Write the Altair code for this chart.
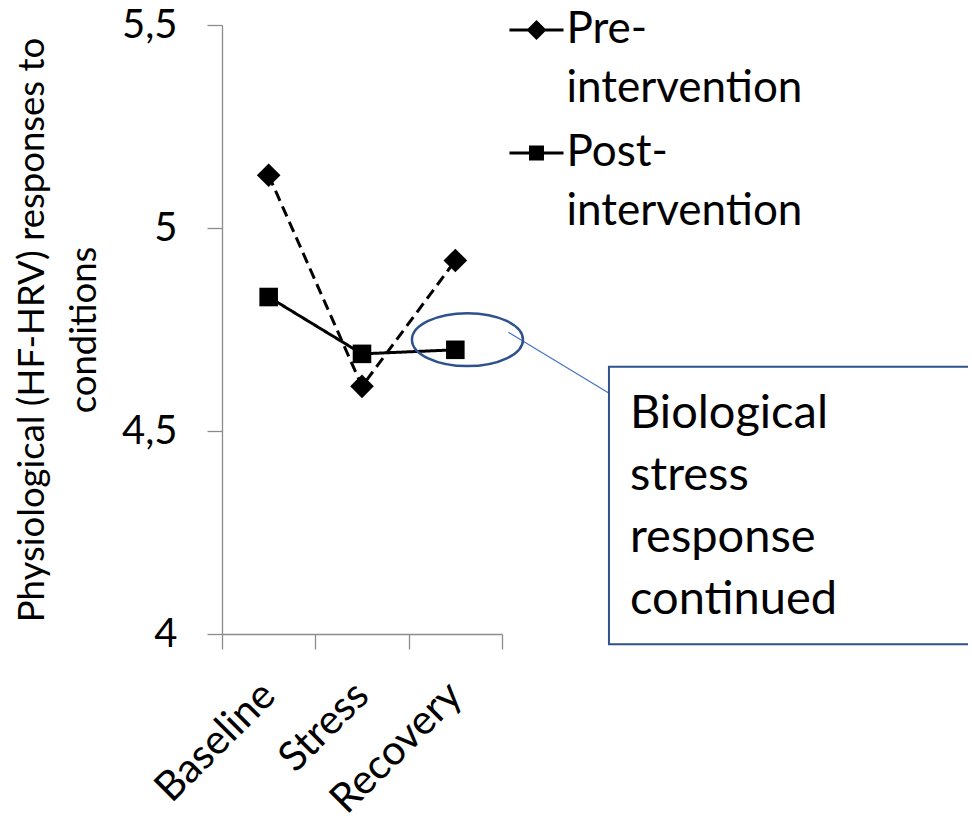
import json
import altair as alt
import pandas as pd

# ---- chart values ----
categories = ["Baseline", "Stress", "Recovery"]
series_names = ["Pre-intervention", "Post-intervention"]
pre_values = [5.13, 4.61, 4.92]
post_values = [4.83, 4.69, 4.70]
y_ticks = [4.0, 4.5, 5.0, 5.5]
y_title = ["Physiological (HF-HRV) responses to", "conditions"]
legend_lines = [["Pre-", "intervention"], ["Post-", "intervention"]]
note_lines = ["Biological", "stress", "response", "continued"]

# ---- annotation anchors (data units) ----
ellipse_center = [2.63, 4.725]
connector_from = [3.068, 4.743]
connector_to = [4.139, 4.594]
box_from = [4.146, 4.658]
box_to = [8.2, 3.975]
note_anchor = [4.371, 4.507]

rows = []
for name, vals in zip(series_names, [pre_values, post_values]):
    for i, (c, v) in enumerate(zip(categories, vals)):
        rows.append({"category": c, "pos": i + 0.5, "series": name, "value": v})
df = pd.DataFrame(rows)

FONT = "Lato"
GREY = "#8c8c8c"
BLUE_DARK = "#2F528F"
BLUE = "#4472C4"

x_scale = alt.Scale(domain=[0, len(categories)], nice=False, zero=False)
y_scale = alt.Scale(domain=[4, 5.5], nice=False, zero=False)

x_ticks = [i * 0.5 for i in range(2 * len(categories) + 1)]
x_label_expr = (
    f"datum.value % 1 == 0.5 ? {json.dumps(categories)}[floor(datum.value)] : ''"
)

x_axis = alt.Axis(
    values=x_ticks, labelExpr=x_label_expr, title=None, grid=False,
    domainColor=GREY, domainWidth=1.3, tickColor=GREY, tickWidth=1.3, tickSize=15,
    tickOpacity={"condition": {"test": "datum.value % 1 != 0", "value": 0}, "value": 1},
    labelAngle=-45, labelAlign="right", labelBaseline="middle", labelPadding=40,
    labelFont=FONT, labelFontSize=41, labelColor="black",
    labelOverlap=False, labelFlush=False,
)
y_axis = alt.Axis(
    values=y_ticks, format=".1~f", labelExpr="replace(datum.label, '.', ',')",
    title=y_title, grid=False,
    domainColor=GREY, domainWidth=1.3, tickColor=GREY, tickWidth=1.3, tickSize=15,
    labelPadding=30, labelFont=FONT, labelFontSize=40, labelColor="black",
    titleFont=FONT, titleFontSize=36.5, titleFontWeight="normal", titleColor="black",
    titleLineHeight=52, titleAngle=-90, titleAlign="center", titleBaseline="top",
    titleX=-208, titleY=304.5,
)

x_enc = alt.X("pos:Q", scale=x_scale, axis=x_axis)
y_enc = alt.Y("value:Q", scale=y_scale, axis=y_axis)

lines = alt.Chart(df).mark_line(color="black", strokeWidth=3).encode(
    x=x_enc, y=y_enc, detail="series:N",
    strokeDash=alt.StrokeDash("series:N", scale=alt.Scale(domain=series_names, range=[[11, 6], [1, 0]]), legend=None),
)

points = alt.Chart(df).mark_point(filled=True, color="black", opacity=1).encode(
    x=x_enc, y=y_enc,
    shape=alt.Shape("series:N", scale=alt.Scale(domain=series_names, range=["diamond", "square"]), legend=None),
    size=alt.Size("series:N", scale=alt.Scale(type="ordinal", domain=series_names, range=[560, 345]), legend=None),
)

# legend symbols: a line segment (thin filled bar) with the marker
pre_sym = "M-3.18,-0.18H3.18V0.18H-3.18ZM-1.18,0L0,-1.18L1.18,0L0,1.18Z"
post_sym = "M-3.18,-0.18H3.18V0.18H-3.18ZM-0.88,-0.88H0.88V0.88H-0.88Z"
legend_expr = (
    f"datum.label == {json.dumps(series_names[0])} ? {json.dumps(legend_lines[0])} : {json.dumps(legend_lines[1])}"
)

legend_layer = alt.Chart(df).mark_point(filled=True, color="black", opacity=0).encode(
    x=x_enc, y=y_enc,
    shape=alt.Shape(
        "series:N",
        scale=alt.Scale(domain=series_names, range=[pre_sym, post_sym]),
        legend=alt.Legend(
            title=None, orient="none", legendX=292.5, legendY=-17, padding=0,
            labelExpr=legend_expr, labelFont=FONT, labelFontSize=44,
            labelLimit=600, labelBaseline="middle", labelColor="black", labelOffset=8,
            symbolSize=289, symbolOpacity=1, symbolFillColor="black",
            symbolStrokeColor="black", symbolStrokeWidth=0, symbolOffset=0,
            rowPadding=20,
        ),
    ),
)

box_df = pd.DataFrame([{"x": box_from[0], "x2": box_to[0], "y": box_from[1], "y2": box_to[1]}])
box = alt.Chart(box_df).mark_rect(fill="white", stroke=BLUE_DARK, strokeWidth=2).encode(
    x=alt.X("x:Q", scale=x_scale, axis=x_axis), x2="x2:Q",
    y=alt.Y("y:Q", scale=y_scale, axis=y_axis), y2="y2:Q",
)

conn_df = pd.DataFrame([{"x": connector_from[0], "x2": connector_to[0], "y": connector_from[1], "y2": connector_to[1]}])
connector = alt.Chart(conn_df).mark_rule(color=BLUE, strokeWidth=1.2).encode(
    x=alt.X("x:Q", scale=x_scale, axis=x_axis), x2="x2:Q",
    y=alt.Y("y:Q", scale=y_scale, axis=y_axis), y2="y2:Q",
)

ell_df = pd.DataFrame([{"x": ellipse_center[0], "y": ellipse_center[1]}])
ellipse = alt.Chart(ell_df).mark_point(
    shape="M-1,0A1,0.477,0,1,1,1,0A1,0.477,0,1,1,-1,0Z",
    size=111 * 111, filled=False, color=BLUE_DARK, strokeWidth=2.5, opacity=1,
).encode(
    x=alt.X("x:Q", scale=x_scale, axis=x_axis),
    y=alt.Y("y:Q", scale=y_scale, axis=y_axis),
)

note_df = pd.DataFrame([{"x": note_anchor[0], "y": note_anchor[1]}])
note = alt.Chart(note_df).mark_text(
    text=note_lines, align="left", baseline="alphabetic", font=FONT, fontSize=47,
    lineHeight=62, color="black",
).encode(
    x=alt.X("x:Q", scale=x_scale, axis=x_axis),
    y=alt.Y("y:Q", scale=y_scale, axis=y_axis),
)

chart = alt.layer(lines, points, legend_layer, connector, box, ellipse, note).resolve_scale(
    shape="independent"
).properties(
    width=280, height=609,
    padding={"left": 222, "top": 25, "right": 466, "bottom": 188},
    autosize=alt.AutoSizeParams(type="none"),
).configure(
    style={"guide-label": {"lineHeight": 59}}
).configure_view(stroke=None)

chart.save("out.html", embed_options={"renderer": "svg", "actions": False})
